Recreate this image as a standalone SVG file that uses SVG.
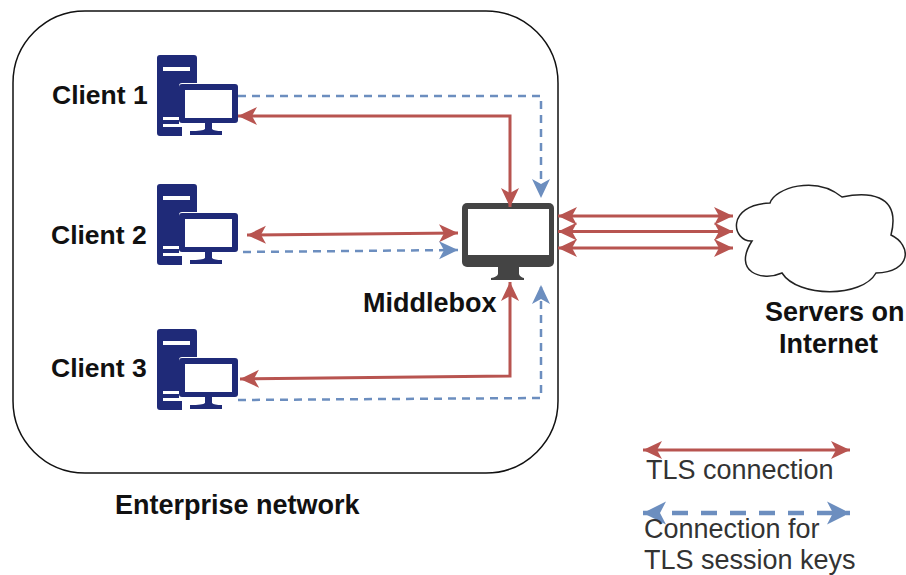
<svg xmlns="http://www.w3.org/2000/svg" xmlns:xlink="http://www.w3.org/1999/xlink" width="906" height="575" viewBox="0 0 906 575">
<style>
text{font-family:"Liberation Sans",Arial,sans-serif;font-size:27px;fill:#333}
.b{font-weight:bold;fill:#111}
.c{font-size:26.500px}
.r,.k{fill:none;stroke-linejoin:miter}
.r{stroke:#b85450;stroke-width:3}
.k{stroke:#6c8ebf;stroke-width:2.500;stroke-dasharray:8 6}
.rr{marker-start:url(#ra);marker-end:url(#ra)}
.ke{marker-end:url(#ba)}
.lk{stroke-width:4.500;stroke-dasharray:16 13;marker-start:url(#bl);marker-end:url(#bl)}
</style>
<defs>
<marker id="ra" markerUnits="userSpaceOnUse" markerWidth="20" markerHeight="20" refX="19" refY="9.500" orient="auto-start-reverse"><path d="M0,0.500L19,9.500L0,18.500L5,9.500Z" fill="#b85450"/></marker>
<marker id="ba" markerUnits="userSpaceOnUse" markerWidth="20" markerHeight="20" refX="19" refY="9.500" orient="auto-start-reverse"><path d="M0,0.500L19,9.500L0,18.500L5,9.500Z" fill="#6c8ebf"/></marker>
<marker id="bl" markerUnits="userSpaceOnUse" markerWidth="24" markerHeight="25" refX="23" refY="12" orient="auto-start-reverse"><path d="M0,0.500L23,12L0,23.500L6,12Z" fill="#6c8ebf"/></marker>
<g id="pc">
<path d="M160,55H194a3,3 0 0 1 3,3V83H182a3,3 0 0 0-3,3V124a3,3 0 0 0 3,3H182V136H160a3,3 0 0 1-3-3V58a3,3 0 0 1 3-3Z" fill="#1f2a78"/>
<rect x="163" y="67" width="27" height="4" fill="#fff"/>
<rect x="163" y="117" width="16" height="3" fill="#fff"/>
<rect x="163" y="124" width="19" height="3" fill="#fff"/>
<rect x="179" y="84" width="59" height="39" rx="3" fill="#1f2a78"/>
<rect x="185" y="90" width="47" height="28" fill="#fff"/>
<path d="M205,123H212V129Q214,131 222,131V135H190V131Q203,131 205,129Z" fill="#1f2a78"/>
</g>
</defs>
<g id="enterprise-network"><rect x="13" y="11" width="545" height="462" rx="72" ry="72" fill="#fff" stroke="#111" stroke-width="1.500"/><text class="b" x="115" y="514">Enterprise network</text></g>
<g id="client-1"><use xlink:href="#pc" href="#pc"/><text class="b c" x="52" y="104">Client 1</text></g>
<g id="client-2"><use xlink:href="#pc" href="#pc" y="129"/><text class="b c" x="51" y="244">Client 2</text></g>
<g id="client-3"><use xlink:href="#pc" href="#pc" y="274"/><text class="b c" x="51" y="377">Client 3</text></g>
<g id="middlebox">
<rect x="462" y="203" width="92" height="64" rx="5" fill="#444"/>
<rect x="468" y="209" width="81" height="46" fill="#fff"/>
<path d="M498,267H519V274Q520,277 524,278V280H491V278Q497,277 498,274Z" fill="#444"/>
<text class="b" x="363" y="312">Middlebox</text>
</g>
<g id="servers">
<path d="M770,203C775,188 815,175 842,197C865,192 902,192 891,235C912,245 912,272 876,273C862,298 798,298 782,273C762,282 732,272 752,241C732,242 725,205 770,203Z" fill="#fff" stroke="#222" stroke-width="1.500"/>
<text class="b" x="765" y="321">Servers on</text>
<text class="b" x="779" y="353">Internet</text>
</g>
<g id="connectors">
<path class="r rr" d="M238,116H510V207"/>
<path class="k ke" d="M238,96H541V198"/>
<path class="r rr" d="M247,235L458,233"/>
<path class="k ke" d="M243,252L458,250"/>
<path class="r rr" d="M240,379L510,376V282"/>
<path class="k ke" d="M238,400L541,398V285"/>
<path class="r rr" d="M558,216H733"/>
<path class="r rr" d="M558,231.500H733"/>
<path class="r rr" d="M558,248H733"/>
</g>
<g id="legend">
<path class="r rr" d="M643,450H850"/>
<path class="k lk" d="M643,513H850"/>
<text x="646" y="479">TLS connection</text>
<text x="644" y="538">Connection for</text>
<text x="644" y="569">TLS session keys</text>
</g>
</svg>
